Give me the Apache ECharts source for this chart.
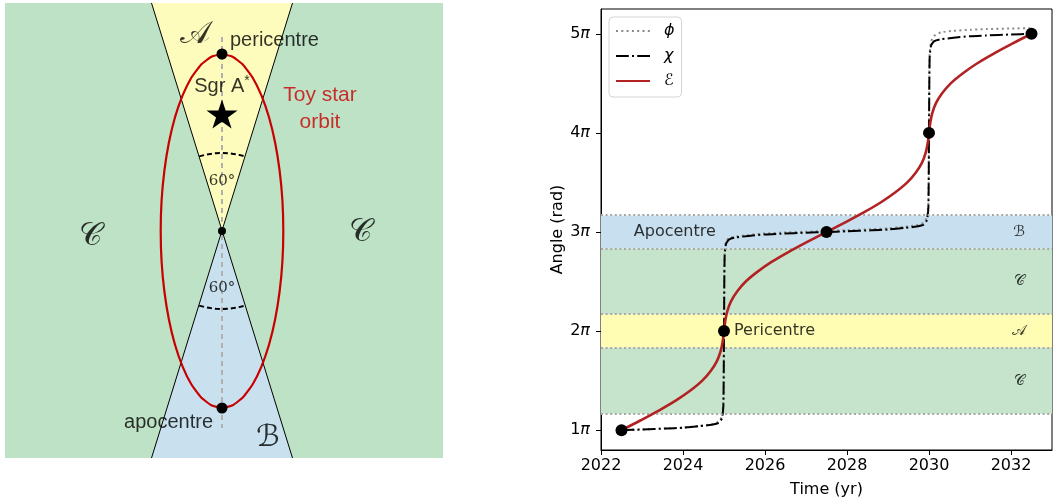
<!DOCTYPE html>
<html>
<head>
<meta charset="utf-8">
<script src="https://cdn.jsdelivr.net/npm/echarts@6/dist/echarts.min.js"></script>
<style>
html, body { margin: 0; padding: 0; background: #fff; }
#chart { width: 1054px; height: 501px; }
</style>
</head>
<body>
<div id="chart"></div>
<script>
// ---- right panel data (angles in units of pi) ----
const eTime = [2022.5, 2022.97, 2023.42, 2023.83, 2024.18, 2024.47, 2024.68, 2024.83, 2024.92, 2024.97, 2025.0,
  2025.03, 2025.08, 2025.17, 2025.32, 2025.53, 2025.82, 2026.17, 2026.58, 2027.03, 2027.5,
  2027.97, 2028.42, 2028.83, 2029.18, 2029.47, 2029.68, 2029.83, 2029.92, 2029.97, 2030.0,
  2030.03, 2030.08, 2030.17, 2030.32, 2030.53, 2030.82, 2031.17, 2031.58, 2032.03, 2032.5];
const eAngle = [1.0, 1.1, 1.2, 1.3, 1.4, 1.5, 1.6, 1.7, 1.8, 1.9, 2.0,
  2.1, 2.2, 2.3, 2.4, 2.5, 2.6, 2.7, 2.8, 2.9, 3.0,
  3.1, 3.2, 3.3, 3.4, 3.5, 3.6, 3.7, 3.8, 3.9, 4.0,
  4.1, 4.2, 4.3, 4.4, 4.5, 4.6, 4.7, 4.8, 4.9, 5.0];

const chiTime = [2022.5, 2023.0, 2023.6, 2024.0, 2024.4, 2024.7, 2024.87, 2024.95, 2024.985, 2025.0,
  2025.015, 2025.05, 2025.13, 2025.3, 2025.6, 2026.0, 2026.4, 2027.0, 2027.5,
  2028.0, 2028.6, 2029.0, 2029.4, 2029.7, 2029.87, 2029.95, 2029.985, 2030.0,
  2030.015, 2030.05, 2030.13, 2030.3, 2030.6, 2031.0, 2031.4, 2032.0, 2032.5];
const chiAngle = [1.0, 1.007, 1.017, 1.025, 1.04, 1.055, 1.074, 1.12, 1.25, 2.0,
  2.75, 2.88, 2.926, 2.945, 2.96, 2.975, 2.983, 2.993, 3.0,
  3.007, 3.017, 3.025, 3.04, 3.055, 3.074, 3.12, 3.25, 4.0,
  4.75, 4.88, 4.926, 4.945, 4.96, 4.975, 4.983, 4.993, 5.0];

const phiTime = chiTime;
const phiAngle = [1.0, 1.007, 1.017, 1.026, 1.042, 1.06, 1.085, 1.14, 1.3, 2.0,
  2.8, 2.9, 2.94, 2.955, 2.97, 2.985, 2.993, 3.003, 3.01,
  3.018, 3.028, 3.037, 3.052, 3.07, 3.095, 3.15, 3.3, 4.0,
  4.8, 4.92, 4.98, 5.015, 5.03, 5.04, 5.047, 5.053, 5.057];

const eventTime = [2022.5, 2025.0, 2027.5, 2030.0, 2032.5];
const eventAngle = [1, 2, 3, 4, 5];

const xTicks = [2022, 2024, 2026, 2028, 2030, 2032];
const yTicks = [1, 2, 3, 4, 5];

const bandLow = [2.833, 2.167, 1.833, 1.167];
const bandHigh = [3.167, 2.833, 2.167, 1.833];
const bandName = ['ℬ', '𝒞', '𝒜', '𝒞'];
const bandEdges = [3.167, 2.833, 2.167, 1.833, 1.167];

// ---- left panel sketch (offsets from cone apex) ----
const orbitX = [0, 10.6, 21.0, 30.7, 39.4, 47.0, 53.1, 57.6, 60.4, 61.3,
  60.4, 57.6, 53.1, 47.0, 39.4, 30.7, 21.0, 10.6, 0,
  -10.6, -21.0, -30.7, -39.4, -47.0, -53.1, -57.6, -60.4, -61.3,
  -60.4, -57.6, -53.1, -47.0, -39.4, -30.7, -21.0, -10.6, 0];
const orbitY = [177, 174.3, 166.3, 153.3, 135.6, 113.8, 88.5, 60.5, 30.7, 0,
  -30.7, -60.5, -88.5, -113.8, -135.6, -153.3, -166.3, -174.3, -177,
  -174.3, -166.3, -153.3, -135.6, -113.8, -88.5, -60.5, -30.7, 0,
  30.7, 60.5, 88.5, 113.8, 135.6, 153.3, 166.3, 174.3, 177];
const arcX = [-22.8, -17.2, -11.5, -5.8, 0, 5.8, 11.5, 17.2, 22.8];
const arcY = [74.6, 76.1, 77.1, 77.8, 78, 77.8, 77.1, 76.1, 74.6];
const coneUpX = [0, -70.5, 70.5];
const coneUpY = [0, 228, 228];
const coneDownX = [0, -70.5, 70.5];
const coneDownY = [0, -227, -227];
const orbitDotX = [0, 0, 0];
const orbitDotY = [177, 0, -177];

const zip = (a, b) => a.map((v, i) => [v, b[i]]);

const bandColors = ['#c7dfee', '#c5e4cb', '#fffcb3', '#c5e4cb'];
const SANS = 'DejaVu Sans';
const ARIAL = 'Liberation Sans';
const SERIF = 'DejaVu Serif';

const chart = echarts.init(document.getElementById('chart'));

function lbl(x, y, text, opts) {
  return {
    value: [x, y],
    label: Object.assign({ show: true, formatter: text, position: 'inside', color: '#000' }, opts)
  };
}

const starPath = 'path://M50,0 L61.2,34.5 L97.6,34.5 L68.2,55.9 L79.4,90.5 L50,69.1 L20.6,90.5 L31.8,55.9 L2.4,34.5 L38.8,34.5 Z';

const option = {
  animation: false,
  backgroundColor: '#fff',
  grid: [
    { left: 601, top: 9, width: 451, height: 441, show: true, borderColor: '#000', borderWidth: 1, z: 0, outerBoundsMode: 'none' },
    { left: 5, top: 3, width: 438, height: 455, show: true, backgroundColor: '#bee2c6', borderWidth: 0, outerBoundsMode: 'none' }
  ],
  legend: {
    data: ['ϕ', 'χ', 'ℰ'],
    orient: 'vertical',
    left: 609,
    top: 17,
    itemWidth: 34,
    itemHeight: 16,
    itemGap: 9,
    padding: [6, 7, 8, 6],
    borderColor: '#d5d5d5',
    borderWidth: 1,
    borderRadius: 4,
    backgroundColor: 'rgba(255,255,255,0.85)',
    itemStyle: { opacity: 0 },
    textStyle: { fontSize: 16, fontFamily: SANS, fontStyle: 'italic', color: '#000', padding: [0, 0, 0, 9] }
  },
  xAxis: [
    {
      gridIndex: 0, type: 'value', min: 2022, max: 2033,
      name: 'Time (yr)', nameLocation: 'middle', nameGap: 32,
      nameTextStyle: { fontSize: 16, fontFamily: SANS, color: '#000' },
      axisLine: { lineStyle: { color: '#000', width: 1 } },
      axisTick: { show: true, length: 5, lineStyle: { color: '#000' }, customValues: xTicks },
      axisLabel: { fontSize: 16, fontFamily: SANS, color: '#000', margin: 8, customValues: xTicks, formatter: v => String(v) },
      splitLine: { show: false }
    },
    { gridIndex: 1, type: 'value', min: -217, max: 221, show: false, splitLine: { show: false } }
  ],
  yAxis: [
    {
      gridIndex: 0, type: 'value', min: 0.8, max: 5.25,
      name: 'Angle (rad)', nameLocation: 'middle', nameGap: 22,
      nameTextStyle: { fontSize: 16, fontFamily: SANS, color: '#000' },
      axisLine: { show: true, lineStyle: { color: '#000', width: 1 } },
      axisTick: { show: true, length: 5, lineStyle: { color: '#000' }, customValues: yTicks },
      axisLabel: {
        margin: 11, customValues: yTicks,
        formatter: v => '{n|' + v + '}{p|π}',
        rich: {
          n: { fontSize: 16, fontFamily: SANS, color: '#000' },
          p: { fontSize: 16, fontFamily: SANS, fontStyle: 'italic', color: '#000' }
        }
      },
      splitLine: { show: false }
    },
    { gridIndex: 1, type: 'value', min: -227, max: 228, show: false, splitLine: { show: false } }
  ],
  series: [
    // bands
    {
      name: 'bands', type: 'line', xAxisIndex: 0, yAxisIndex: 0, data: [], silent: true, z: 1,
      markArea: {
        silent: true,
        data: bandLow.map((lo, i) => [{ yAxis: lo, itemStyle: { color: bandColors[i] } }, { yAxis: bandHigh[i] }])
      },
      markLine: {
        silent: true, symbol: ['none', 'none'], label: { show: false },
        lineStyle: { color: '#a8a8a8', width: 2, type: [2, 2.6] },
        data: bandEdges.map(v => ({ yAxis: v }))
      }
    },
    {
      name: 'ϕ', type: 'line', xAxisIndex: 0, yAxisIndex: 0, data: zip(phiTime, phiAngle),
      symbol: 'none', smooth: 0.2, z: 3,
      itemStyle: { color: '#8a8a8a' },
      lineStyle: { color: '#8a8a8a', width: 2, type: [2, 3.3] }
    },
    {
      name: 'χ', type: 'line', xAxisIndex: 0, yAxisIndex: 0, data: zip(chiTime, chiAngle),
      symbol: 'none', smooth: 0.2, z: 4,
      itemStyle: { color: '#000' },
      lineStyle: { color: '#000', width: 2, type: [12.8, 3.2, 2, 3.2] }
    },
    {
      name: 'ℰ', type: 'line', xAxisIndex: 0, yAxisIndex: 0, data: zip(eTime, eAngle),
      symbol: 'none', smooth: 0.35, z: 5,
      itemStyle: { color: '#b22222' },
      lineStyle: { color: '#b22222', width: 2.6 }
    },
    {
      name: 'events', type: 'scatter', xAxisIndex: 0, yAxisIndex: 0, data: zip(eventTime, eventAngle),
      symbolSize: 12, itemStyle: { color: '#000', opacity: 1 }, z: 6
    },
    {
      name: 'panelText', type: 'scatter', xAxisIndex: 0, yAxisIndex: 0, symbolSize: 0, z: 7, silent: true,
      data: [
        lbl(2022.8, 3, 'Apocentre', { position: 'right', distance: 0, fontSize: 16, fontFamily: SANS }),
        lbl(2025, 2, 'Pericentre', { position: 'right', distance: 10, fontSize: 16, fontFamily: SANS })
      ].concat(bandName.map((n, i) => lbl(2032.2, (bandLow[i] + bandHigh[i]) / 2, n,
        { fontSize: 15, fontFamily: SANS })))
    },

    // ---- left sketch ----
    {
      name: 'coneUp', type: 'custom', xAxisIndex: 1, yAxisIndex: 1, silent: true, z: 1,
      data: zip(coneUpX, coneUpY),
      renderItem: (params, api) => {
        if (params.dataIndex !== 0) return;
        return { type: 'polygon', shape: { points: zip(coneUpX, coneUpY).map(p => api.coord(p)) }, style: { fill: '#fefcbd' } };
      }
    },
    {
      name: 'coneDown', type: 'custom', xAxisIndex: 1, yAxisIndex: 1, silent: true, z: 1,
      data: zip(coneDownX, coneDownY),
      renderItem: (params, api) => {
        if (params.dataIndex !== 0) return;
        return { type: 'polygon', shape: { points: zip(coneDownX, coneDownY).map(p => api.coord(p)) }, style: { fill: '#c9e0ef' } };
      }
    },
    {
      name: 'edge1', type: 'line', xAxisIndex: 1, yAxisIndex: 1, symbol: 'none', silent: true, z: 2,
      data: [[coneUpX[1], coneUpY[1]], [coneDownX[2], coneDownY[2]]],
      lineStyle: { color: '#000', width: 1 }
    },
    {
      name: 'edge2', type: 'line', xAxisIndex: 1, yAxisIndex: 1, symbol: 'none', silent: true, z: 2,
      data: [[coneUpX[2], coneUpY[2]], [coneDownX[1], coneDownY[1]]],
      lineStyle: { color: '#000', width: 1 }
    },
    {
      name: 'axisDash', type: 'line', xAxisIndex: 1, yAxisIndex: 1, symbol: 'none', silent: true, z: 2,
      data: [[0, 194], [0, -197]],
      lineStyle: { color: '#b0b0b0', width: 2, type: [5, 4] }
    },
    {
      name: 'arcUp', type: 'line', xAxisIndex: 1, yAxisIndex: 1, symbol: 'none', silent: true, z: 2,
      data: zip(arcX, arcY),
      lineStyle: { color: '#000', width: 2, type: [5, 3] }
    },
    {
      name: 'arcDown', type: 'line', xAxisIndex: 1, yAxisIndex: 1, symbol: 'none', silent: true, z: 2,
      data: zip(arcX, arcY.map(v => -v)),
      lineStyle: { color: '#000', width: 2, type: [5, 3] }
    },
    {
      name: 'orbit', type: 'line', xAxisIndex: 1, yAxisIndex: 1, symbol: 'none', silent: true, z: 3, smooth: 0.15,
      data: zip(orbitX, orbitY),
      lineStyle: { color: '#c80000', width: 2.2 }
    },
    {
      name: 'orbitDots', type: 'scatter', xAxisIndex: 1, yAxisIndex: 1, silent: true, z: 4,
      data: zip(orbitDotX, orbitDotY),
      symbolSize: (v, p) => (p.dataIndex === 1 ? 8 : 11),
      itemStyle: { color: '#000', opacity: 1 }
    },
    {
      name: 'star', type: 'scatter', xAxisIndex: 1, yAxisIndex: 1, silent: true, z: 4,
      data: [[0, 117]], symbol: starPath, symbolSize: [31, 29], itemStyle: { color: '#000', opacity: 1 }
    },
    {
      name: 'sketchText', type: 'scatter', xAxisIndex: 1, yAxisIndex: 1, symbolSize: 0, silent: true, z: 5,
      data: [
        lbl(-27, 196, '𝒜', { fontSize: 32, fontFamily: SANS }),
        lbl(8, 191, 'pericentre', { position: 'right', distance: 0, fontSize: 20, fontFamily: ARIAL }),
        lbl(0, 145, '{n|Sgr A}{s|*}', {
          rich: { n: { fontSize: 20, fontFamily: ARIAL, color: '#000' }, s: { fontSize: 14, fontFamily: ARIAL, color: '#000', padding: [0, 0, 10, 0] } }
        }),
        lbl(98, 122.5, 'Toy star\norbit', { fontSize: 21, lineHeight: 27, fontFamily: ARIAL, color: '#c80000', align: 'center' }),
        lbl(0, 50, '60°', { fontSize: 15, fontFamily: SERIF }),
        lbl(0, -57, '60°', { fontSize: 15, fontFamily: SERIF }),
        lbl(-132, -6, '𝒞', { fontSize: 32, fontFamily: SANS }),
        lbl(138, -2, '𝒞', { fontSize: 32, fontFamily: SANS }),
        lbl(-9, -191, 'apocentre', { position: 'left', distance: 0, fontSize: 20, fontFamily: ARIAL }),
        lbl(46, -207, 'ℬ', { fontSize: 30, fontFamily: SANS })
      ]
    }
  ]
};

chart.setOption(option);
</script>
</body>
</html>
